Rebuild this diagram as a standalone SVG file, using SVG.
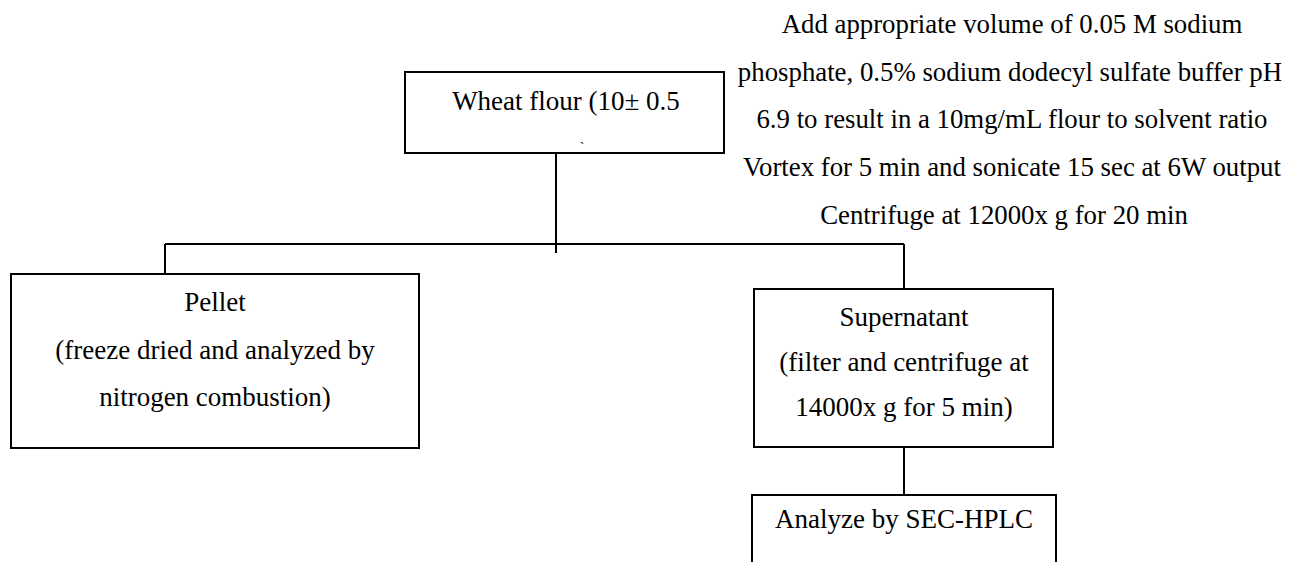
<svg xmlns="http://www.w3.org/2000/svg" width="1298" height="562" viewBox="0 0 1298 562">
<style>
.box{fill:#fff;stroke:#000;stroke-width:2}
.ln{stroke:#000;stroke-width:2;fill:none}
text{font-family:"Liberation Serif","Times New Roman",serif;font-size:27px;fill:#000;text-anchor:middle}
.tr{font-size:26.8px}
</style>
<rect width="1298" height="562" fill="#fff"/>
<g id="connectors">
<line class="ln" x1="556" y1="153" x2="556" y2="253"/>
<line class="ln" x1="165" y1="244" x2="904" y2="244"/>
<line class="ln" x1="165" y1="244" x2="165" y2="274"/>
<line class="ln" x1="904" y1="244" x2="904" y2="289"/>
<line class="ln" x1="904" y1="448" x2="904" y2="495"/>
</g>
<g id="wheat">
<rect class="box" x="405" y="72" width="319" height="81"/>
<text x="566" y="110">Wheat flour (10± 0.5</text>
<text x="582" y="152" style="font-size:14px">`</text>
</g>
<g id="instructions">
<text class="tr" x="1012" y="33">Add appropriate volume of 0.05 M sodium</text>
<text class="tr" x="1010" y="81">phosphate, 0.5% sodium dodecyl sulfate buffer pH</text>
<text class="tr" x="1012" y="128">6.9 to result in a 10mg/mL flour to solvent ratio</text>
<text class="tr" x="1012" y="176">Vortex for 5 min and sonicate 15 sec at 6W output</text>
<text class="tr" x="1004" y="224">Centrifuge at 12000x g for 20 min</text>
</g>
<g id="pellet">
<rect class="box" x="11" y="274" width="408" height="174"/>
<text x="215" y="311">Pellet</text>
<text x="215" y="359">(freeze dried and analyzed by</text>
<text x="215" y="406">nitrogen combustion)</text>
</g>
<g id="supernatant">
<rect class="box" x="754" y="289" width="299" height="158"/>
<text x="904" y="326">Supernatant</text>
<text x="904" y="371">(filter and centrifuge at</text>
<text x="904" y="416">14000x g for 5 min)</text>
</g>
<g id="analyze">
<rect class="box" x="752" y="495" width="304" height="80"/>
<text x="904" y="528">Analyze by SEC-HPLC</text>
</g>
</svg>
